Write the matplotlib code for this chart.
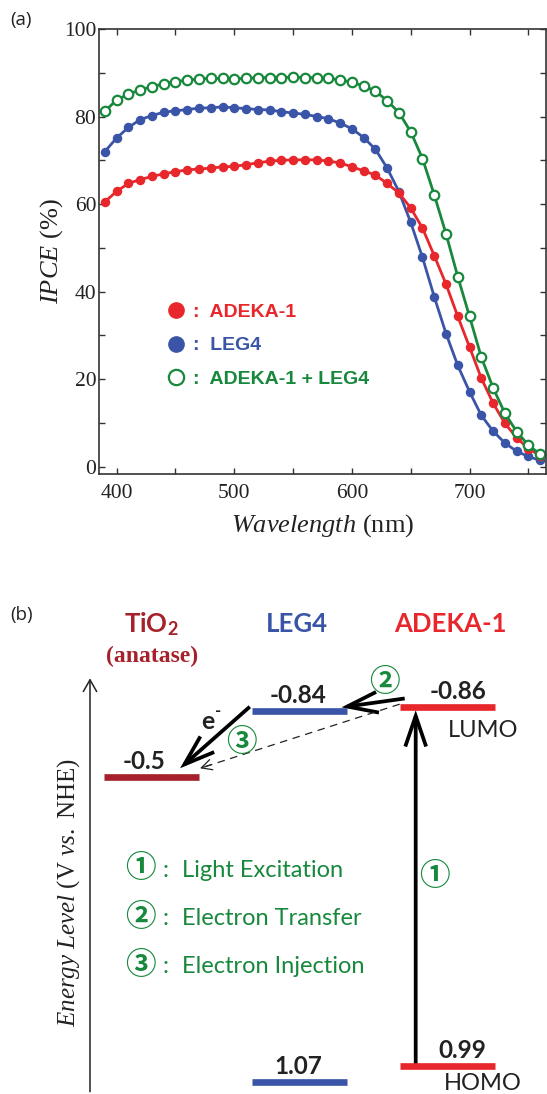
import numpy as np
import matplotlib.pyplot as plt
from matplotlib.lines import Line2D
from matplotlib.patches import FancyArrowPatch

plt.rcParams['mathtext.fontset'] = 'custom'
plt.rcParams['mathtext.rm'] = 'Liberation Serif'
plt.rcParams['mathtext.it'] = 'Liberation Serif:italic'
plt.rcParams['mathtext.bf'] = 'Lato:bold'

# ---- panel (a) data: IPCE spectra, one point every 10 nm ----
wavelength = np.arange(390, 770, 10)
ipce_adeka = [60.5, 62.9, 64.7, 65.6, 66.3, 66.9, 67.4, 67.8, 68.0, 68.2,
              68.5, 68.6, 69.0, 69.4, 69.8, 70.0, 70.1, 70.1, 70.1, 69.8,
              69.4, 68.5, 67.6, 66.6, 64.7, 62.5, 59.1, 54.5, 48.2, 41.7,
              34.3, 27.3, 20.2, 14.5, 9.9, 6.6, 4.1, 2.5]
ipce_leg4 = [72.0, 75.1, 77.5, 79.3, 80.2, 81.0, 81.3, 81.6, 81.9, 82.0,
             82.2, 82.0, 81.8, 81.6, 81.5, 81.1, 80.8, 80.5, 80.0, 79.5,
             78.5, 77.2, 75.2, 72.5, 68.2, 62.8, 55.8, 47.8, 38.8, 30.4,
             23.1, 17.1, 11.7, 8.1, 5.4, 3.5, 2.3, 1.4]
ipce_mix = [81.2, 83.8, 85.1, 86.1, 86.8, 87.5, 88.0, 88.3, 88.6, 88.7,
            88.7, 88.6, 88.7, 88.9, 88.9, 88.9, 89.0, 88.9, 88.9, 88.7,
            88.4, 87.8, 87.0, 85.8, 83.6, 80.9, 76.5, 70.4, 62.1, 53.2,
            43.4, 34.3, 25.0, 18.0, 12.2, 8.0, 4.9, 2.8]
legend_labels = [':  ADEKA-1', ':  LEG4', ':  ADEKA-1 + LEG4']

# ---- panel (b) data: energy levels (V vs. NHE) ----
species = ['TiO2', 'LEG4', 'ADEKA-1']
lumo = [-0.5, -0.84, -0.86]
homo = [None, 1.07, 0.99]
steps = ['Light Excitation', 'Electron Transfer', 'Electron Injection']
step_marks = ['\u2460', '\u2461', '\u2462']

RED = '#e8272c'
BLUE = '#3a55a8'
GREEN = '#17883c'
DARKRED = '#a5212b'
INK = '#222222'

fig = plt.figure(figsize=(5.47, 10.94), dpi=100)
W, H = 547.0, 1094.0

# ================= (a) =================
ax = fig.add_axes([99 / W, 1 - 474 / H, 447 / W, 445 / H])
ax.plot(wavelength, ipce_leg4, color=BLUE, lw=2.0, marker='o', ms=5.8,
        mec=BLUE, mfc=BLUE)
ax.plot(wavelength, ipce_adeka, color=RED, lw=2.0, marker='o', ms=5.8,
        mec=RED, mfc=RED)
ax.plot(wavelength, ipce_mix, color=GREEN, lw=2.0, marker='o', ms=6.8,
        mec=GREEN, mfc='white', mew=1.6)

ax.set_xlim(385, 765)
ax.set_ylim(-1.7, 100)
ax.set_xticks([400, 500, 600, 700])
ax.set_xticks(np.arange(450, 800, 100), minor=True)
ax.set_yticks(np.arange(0, 101, 20))
ax.set_yticks(np.arange(10, 100, 20), minor=True)
ax.tick_params(which='both', direction='in', top=True, right=True,
               length=4, width=1.0, color='#333333')
ax.tick_params(axis='x', pad=7)
ax.tick_params(axis='y', pad=2)
for lab in ax.get_xticklabels() + ax.get_yticklabels():
    lab.set_fontfamily('Liberation Serif')
    lab.set_fontsize(15.5)
    lab.set_color(INK)
for sp in ax.spines.values():
    sp.set_linewidth(1.2)
    sp.set_color('#333333')

ax.set_ylabel(r'$\mathit{IPCE}$ (%)', fontsize=19, family='Liberation Serif',
              color=INK)
ax.yaxis.set_label_coords(-0.106, 0.5)
ax.yaxis.label.set_va('center')
ax.set_xlabel(r'$\mathit{Wavelength}$ (nm)', fontsize=19,
              family='Liberation Serif', color=INK)
ax.xaxis.set_label_coords(0.5, -0.115)
ax.xaxis.label.set_va('center')

handles = [Line2D([], [], ls='none', marker='o', ms=11, mec=RED, mfc=RED),
           Line2D([], [], ls='none', marker='o', ms=11, mec=BLUE, mfc=BLUE),
           Line2D([], [], ls='none', marker='o', ms=11, mec=GREEN,
                  mfc='white', mew=1.6)]
leg = ax.legend(handles, legend_labels, loc='upper left',
                bbox_to_anchor=(0.150, 0.383), frameon=False,
                borderaxespad=0, borderpad=0, handlelength=1.0,
                handletextpad=0.38, labelspacing=0.8,
                prop={'family': 'Liberation Sans', 'weight': 'bold',
                      'size': 14})
for t, c in zip(leg.get_texts(), [RED, BLUE, GREEN]):
    t.set_color(c)

fig.text(10 / W, 1 - 20 / H, '(a)', fontsize=13.5, family='Open Sans',
         va='center', ha='left', color=INK)

# ================= (b) =================
axb = fig.add_axes([0, 0, 1, 514 / H])
axb.set_xlim(0, W)
Y0, SCALE = 874.0, 194.0          # pixel row of 0 V and pixels per volt


def py(row):
    return (row - Y0) / SCALE


axb.set_ylim(py(H), py(580))
axb.axis('off')

col_x = [151.7, 299.0, 447.2]
half = 47.5
col_colors = [DARKRED, BLUE, RED]

for cx, lu, ho, c in zip(col_x, lumo, homo, col_colors):
    axb.plot([cx - half, cx + half], [lu, lu], color=c, lw=4.8,
             solid_capstyle='butt')
    if ho is not None:
        axb.plot([cx - half, cx + half], [ho, ho], color=c, lw=4.8,
                 solid_capstyle='butt')

# species titles
title_base = py(632)
axb.text(col_x[0], title_base, r'TiO$_\mathbf{2}$', color=DARKRED,
         family='Lato', weight='bold', fontsize=18.5, ha='center',
         va='baseline')
axb.text(col_x[0], py(661.7), '(anatase)', color=DARKRED,
         family='Liberation Serif', weight='bold', fontsize=17,
         ha='center', va='baseline')
axb.text(col_x[1] - 2, title_base, species[1], color=BLUE, family='Lato',
         weight='bold', fontsize=18.5, ha='center', va='baseline')
axb.text(col_x[2] + 3, title_base, species[2], color=RED, family='Lato',
         weight='bold', fontsize=18.5, ha='center', va='baseline')

# level values
lift = 8 / SCALE
num_kw = dict(family='Lato', weight='bold', fontsize=17.5, color=INK,
              ha='center', va='baseline')
axb.text(col_x[0] - 8, lumo[0] - lift, '-0.5', **num_kw)
axb.text(col_x[1] - 1, lumo[1] - lift, '-0.84', **num_kw)
axb.text(col_x[2] + 11, lumo[2] - lift, '-0.86', **num_kw)
axb.text(col_x[1] - 1, homo[1] - lift, '1.07', **num_kw)
axb.text(col_x[2] + 15, homo[2] - lift, '0.99', **num_kw)
axb.text(col_x[2] + 36, py(736.7), 'LUMO', family='Lato', fontsize=17,
         color=INK, ha='center', va='baseline')
axb.text(col_x[2] + 36, py(1090), 'HOMO', family='Lato', fontsize=17,
         color=INK, ha='center', va='baseline')

# energy axis
axb.add_patch(FancyArrowPatch((90, py(1091.7)), (90, py(678.3)),
                              arrowstyle='->,head_length=0.84,head_width=0.48',
                              mutation_scale=10, lw=1.1, color=INK,
                              shrinkA=0, shrinkB=0))
axb.text(68.3, py(892), r'$\mathit{Energy\ Level}$ (V $\mathit{vs.}$ NHE)',
         rotation=90, fontsize=18, family='Liberation Serif', color=INK,
         ha='center', va='center')

thick = dict(arrowstyle='->,head_length=2.2,head_width=0.75',
             mutation_scale=10, lw=2.7, color='black', shrinkA=0, shrinkB=0,
             joinstyle='miter', capstyle='butt')
x1 = col_x[2] - 31.5
# (1) light excitation
axb.add_patch(FancyArrowPatch((x1, homo[2]), (x1, lumo[2] + 3 / SCALE),
                              **thick))
# (2) ADEKA-1 -> LEG4
axb.add_patch(FancyArrowPatch((col_x[2] - half + 5, lumo[2] - 8.7 / SCALE),
                              (col_x[1] + half - 5, lumo[1] - 3.7 / SCALE),
                              **thick))
# LEG4 -> TiO2
axb.add_patch(FancyArrowPatch((col_x[1] - half - 1.7, lumo[1] - 4.3 / SCALE),
                              (180, lumo[0] - 8.7 / SCALE), **thick))
# (3) direct injection, dashed
pa = np.array([col_x[2] - half, lumo[2] - 3 / SCALE])
pb = np.array([200.0, lumo[0] - 8.7 / SCALE])
axb.plot([pa[0], pb[0]], [pa[1], pb[1]], color=INK, lw=0.9,
         ls=(0, (6, 4.5)))
dpx = np.array([pa[0] - pb[0], (pa[1] - pb[1]) * SCALE])
dpx = dpx / np.hypot(*dpx) * 12
axb.add_patch(FancyArrowPatch((pb[0] + dpx[0], pb[1] + dpx[1] / SCALE),
                              tuple(pb),
                              arrowstyle='->,head_length=0.75,head_width=0.38',
                              mutation_scale=10, lw=0.9, color=INK,
                              shrinkA=0, shrinkB=0))

axb.text(208.3, py(721.7), 'e', family='Lato', weight='bold', fontsize=18,
         color=INK, ha='center', va='center')
axb.text(218.5, py(711), '-', family='Lato', weight='bold', fontsize=12,
         color=INK, ha='center', va='center')

circ = dict(family=['Noto Sans CJK JP', 'DejaVu Sans'], weight='bold',
            fontsize=22, color=GREEN, ha='center', va='center')
axb.text(434, py(876), step_marks[0], **circ)
axb.text(384, py(681.7), step_marks[1], **circ)
axb.text(241.7, py(741.7), step_marks[2], **circ)

row_base = [876.7, 925.0, 973.3]
for mark, label, rb in zip(step_marks, steps, row_base):
    axb.text(140, py(rb - 8.4), mark, **circ)
    axb.text(165, py(rb), ':', family='Lato', fontsize=17, color=GREEN,
             ha='center', va='baseline')
    axb.text(181.7, py(rb), label, family='Lato', fontsize=17, color=GREEN,
             ha='left', va='baseline')

fig.text(10 / W, 1 - 615 / H, '(b)', fontsize=13.5, family='Open Sans',
         va='center', ha='left', color=INK)

fig.savefig('out.png', dpi=100)
